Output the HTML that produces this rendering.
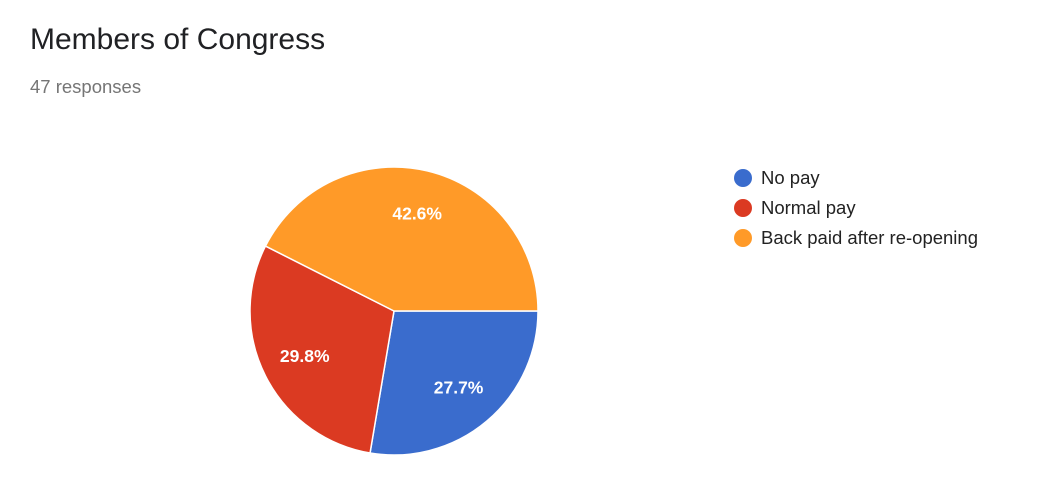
<!DOCTYPE html>
<html><head><meta charset="utf-8"><style>
body{margin:0;width:1048px;height:504px;background:#fff;overflow:hidden;font-family:"Liberation Sans",Arial,sans-serif}
#title{position:absolute;left:30px;top:23px;font-size:30px;color:#202124}
#sub{position:absolute;left:30px;top:76px;font-size:18.5px;color:#757575}
</style></head><body>
<div id="title">Members of Congress</div>
<div id="sub">47 responses</div>
<svg id="chart" width="1048" height="504" style="position:absolute;left:0;top:0"></svg>
<script>
const categories=["No pay","Normal pay","Back paid after re-opening"];
const values=[13,14,20];
const colors=["#3a6ccd","#db3a22","#ff9a28"];
const ns="http://www.w3.org/2000/svg";
const svg=document.getElementById('chart');
const cx=394,cy=311,r=144,lr=100;
const total=values.reduce((a,b)=>a+b,0);
let a=Math.PI/2;
function pt(ang,rad){return [cx+rad*Math.sin(ang),cy-rad*Math.cos(ang)];}
values.forEach((v,i)=>{
  const sweep=v/total*2*Math.PI;
  const [x1,y1]=pt(a,r),[x2,y2]=pt(a+sweep,r);
  const p=document.createElementNS(ns,'path');
  p.setAttribute('d',`M${cx},${cy}L${x1},${y1}A${r},${r} 0 ${sweep>Math.PI?1:0} 1 ${x2},${y2}Z`);
  p.setAttribute('fill',colors[i]);p.setAttribute('stroke','#fff');p.setAttribute('stroke-width','1.5');
  
  
  svg.appendChild(p);
  const [lx,ly]=pt(a+sweep/2,lr);
  const t=document.createElementNS(ns,'text');
  t.setAttribute('x',lx);t.setAttribute('y',ly+6);t.setAttribute('text-anchor','middle');
  t.setAttribute('fill','#fff');t.setAttribute('font-size','17.5');t.setAttribute('font-weight','bold');
  t.setAttribute('font-family','Liberation Sans, Arial, sans-serif');
  t.textContent=(v/total*100).toFixed(1)+'%';
  
  
  svg.appendChild(t);
  a+=sweep;
});
categories.forEach((c,i)=>{
  const y=178+i*30;
  const g=document.createElementNS(ns,'g');
  
  
  const ci=document.createElementNS(ns,'circle');
  ci.setAttribute('cx',743);ci.setAttribute('cy',y);ci.setAttribute('r',9);ci.setAttribute('fill',colors[i]);
  g.appendChild(ci);
  const t=document.createElementNS(ns,'text');
  t.setAttribute('x',761);t.setAttribute('y',y+6);t.setAttribute('font-size','18.5');t.setAttribute('fill','#222');
  t.setAttribute('font-family','Liberation Sans, Arial, sans-serif');
  t.textContent=c;
  g.appendChild(t);
  svg.appendChild(g);
});
</script>
</body></html>
